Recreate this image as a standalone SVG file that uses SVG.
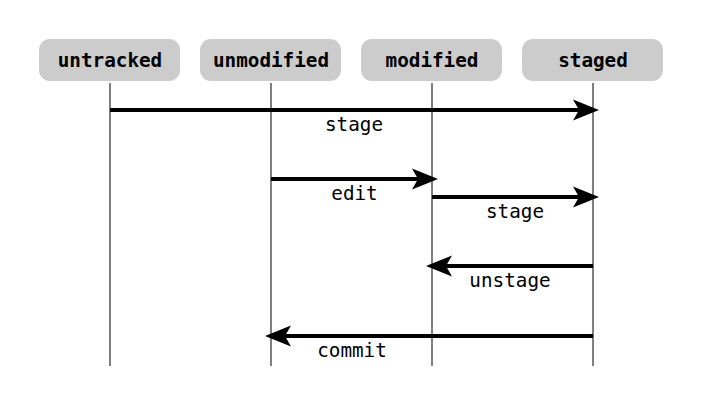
<svg xmlns="http://www.w3.org/2000/svg" width="703" height="405" viewBox="0 0 703 405">
<style>
.box{fill:#cccccc;}
.hd{font-family:"DejaVu Sans Mono",monospace;font-weight:bold;font-size:19.3px;fill:#000;text-anchor:middle;}
.lb{font-family:"DejaVu Sans Mono",monospace;font-size:19.3px;fill:#000;text-anchor:middle;}
.life{stroke:#555;stroke-width:1.5;fill:none;}
.msg{stroke:#000;stroke-width:4;fill:none;marker-end:url(#ah);}
</style>
<defs>
<marker id="ah" markerUnits="userSpaceOnUse" viewBox="-6 -11 26 22" refX="0" refY="0" markerWidth="26" markerHeight="22" orient="auto">
<path d="M20,0 L-6,-10.5 L0,0 L-6,10.5 Z" fill="#000"/>
</marker>
</defs>
<rect width="703" height="405" fill="#fff"/>
<g id="untracked"><rect class="box" x="39" y="39" width="141" height="42" rx="11"/><line class="life" x1="110" y1="83" x2="110" y2="366"/><text class="hd" x="110" y="66.5">untracked</text></g>
<g id="unmodified"><rect class="box" x="200" y="39" width="141" height="42" rx="11"/><line class="life" x1="271" y1="83" x2="271" y2="366"/><text class="hd" x="271" y="66.5">unmodified</text></g>
<g id="modified"><rect class="box" x="361" y="39" width="141" height="42" rx="11"/><line class="life" x1="432" y1="83" x2="432" y2="366"/><text class="hd" x="432" y="66.5">modified</text></g>
<g id="staged"><rect class="box" x="522" y="39" width="141" height="42" rx="11"/><line class="life" x1="593" y1="83" x2="593" y2="366"/><text class="hd" x="593" y="66.5">staged</text></g>
<g id="connectors">
<line class="msg" x1="110" y1="110" x2="579" y2="110"/>
<text class="lb" x="354" y="131">stage</text>
<line class="msg" x1="271" y1="179" x2="418" y2="179"/>
<text class="lb" x="354.5" y="200">edit</text>
<line class="msg" x1="432" y1="197" x2="579" y2="197"/>
<text class="lb" x="515" y="218">stage</text>
<line class="msg" x1="593" y1="266" x2="446" y2="266"/>
<text class="lb" x="510" y="287">unstage</text>
<line class="msg" x1="593" y1="336" x2="285" y2="336"/>
<text class="lb" x="352" y="357">commit</text>
</g>
</svg>
